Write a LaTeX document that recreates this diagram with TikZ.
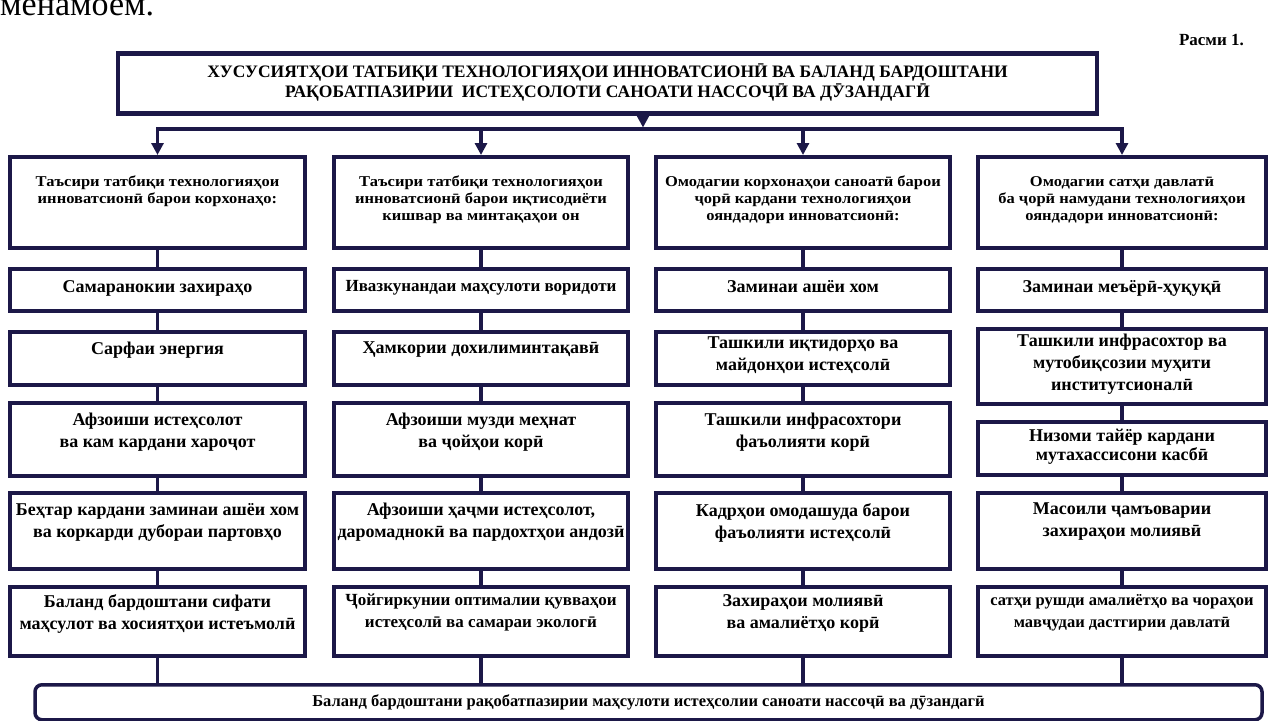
\documentclass[tikz,border=0pt]{standalone}
\usepackage{fontspec}
\setmainfont{Liberation Serif}
\newfontfamily\hdfont[FakeStretch=1.1]{Liberation Serif}
\usetikzlibrary{arrows.meta}
\definecolor{navy}{RGB}{28,24,72}
\tikzset{
  box/.style={draw=navy, line width=3.5pt, fill=white, inner sep=0pt},
  conn/.style={draw=navy, line width=3.5pt},
  arr/.style={conn, -{Triangle[width=12pt,length=12pt]}},
  itemtext/.style={inner sep=0pt, align=center, font=\fontsize{18}{22}\selectfont\bfseries},
  itemsmall/.style={inner sep=0pt, align=center, font=\fontsize{17}{22}\selectfont\bfseries},
  itemnarrow/.style={inner sep=0pt, align=center, font=\fontsize{16.5}{22}\selectfont\bfseries},
  itemtight/.style={inner sep=0pt, align=center, font=\fontsize{18}{19}\selectfont\bfseries},
  headtext/.style={inner sep=0pt, align=center, font=\hdfont\fontsize{15}{17}\selectfont\bfseries},
  titletext/.style={inner sep=0pt, align=center, font=\fontsize{17.5}{20}\selectfont\bfseries},
  bottext/.style={inner sep=0pt, align=center, font=\fontsize{16.5}{20}\selectfont\bfseries},
}
% #1 text style, #2 name, #3 cx, #4 top, #5 width, #6 height, #7 top pad, #8 text
\newcommand\bx[8][itemtext]{%
  \node[box, anchor=north, minimum width=#5pt, minimum height=#6pt] (#2) at (#3,#4) {};
  \node[#1, anchor=north] (#2t) at ([yshift=-#7pt]#2.north) {#8};}
\begin{document}
\begin{tikzpicture}[x=1pt,y=-1pt]
\fill[white] (0,0) rectangle (1271,720);
\useasboundingbox (0,0) rectangle (1271,720);
\node[anchor=base west, inner sep=0pt, font=\fontsize{34}{40}\selectfont] (prev) at (0,15) {менамоем.};
\node[anchor=base east, inner sep=0pt, font=\fontsize{17}{20}\selectfont\bfseries] (fig) at (1244,45) {Расми 1.};
% title
\node[box, line width=4.5pt, anchor=north, minimum width=979pt, minimum height=60pt] (title) at (607.5,51) {};
\node[titletext, anchor=north] (titlet) at ([yshift=-13pt]title.north) {ХУСУСИЯТҲОИ ТАТБИҚИ ТЕХНОЛОГИЯҲОИ ИННОВАТСИОНӢ ВА БАЛАНД БАРДОШТАНИ\\РАҚОБАТПАЗИРИИ~ ИСТЕҲСОЛОТИ САНОАТИ НАССОҶӢ ВА ДӮЗАНДАГӢ};
% headers
\bx[headtext]{c1h}{157.5}{155}{295}{91}{21}{Таъсири татбиқи технологияҳои\\инноватсионӣ барои корхонаҳо:}
\bx[headtext]{c2h}{481}{155}{294}{91}{21}{Таъсири татбиқи технологияҳои\\инноватсионӣ барои иқтисодиёти\\кишвар ва минтақаҳои он}
\bx[headtext]{c3h}{803}{155}{294}{91}{21}{Омодагии корхонаҳои саноатӣ барои\\ҷорӣ кардани технологияҳои\\ояндадори инноватсионӣ:}
\bx[headtext]{c4h}{1122}{155}{288}{91}{21}{Омодагии сатҳи давлатӣ\\ба ҷорӣ намудани технологияҳои\\ояндадори инноватсионӣ:}
% column 1
\bx{c1r1}{157.5}{267}{295}{42}{13}{Самаранокии захираҳо}
\bx{c1r2}{157.5}{330}{295}{53}{12}{Сарфаи энергия}
\bx{c1r3}{157.5}{401}{295}{73}{12}{Афзоиши истеҳсолот\\ва кам кардани хароҷот}
\bx{c1r4}{157.5}{491}{295}{76}{12}{Беҳтар кардани заминаи ашёи хом\\ва коркарди дубораи партовҳо}
\bx{c1r5}{157.5}{585}{295}{69}{9}{Баланд бардоштани сифати\\маҳсулот ва хосиятҳои истеъмолӣ}
% column 2
\bx[itemsmall]{c2r1}{481}{267}{294}{42}{13}{Ивазкунандаи маҳсулоти воридоти}
\bx{c2r2}{481}{330}{294}{53}{12}{Ҳамкории дохилиминтақавӣ}
\bx{c2r3}{481}{401}{294}{73}{12}{Афзоиши музди меҳнат\\ва ҷойҳои корӣ}
\bx{c2r4}{481}{491}{294}{76}{12}{Афзоиши ҳаҷми истеҳсолот,\\даромаднокӣ ва пардохтҳои андозӣ}
\bx[itemsmall]{c2r5}{481}{585}{294}{69}{9}{Ҷойгиркунии оптималии қувваҳои\\истеҳсолӣ ва самараи экологӣ}
% column 3
\bx{c3r1}{803}{267}{294}{42}{13}{Заминаи ашёи хом}
\bx{c3r2}{803}{330}{294}{53}{7}{Ташкили иқтидорҳо ва\\майдонҳои истеҳсолӣ}
\bx{c3r3}{803}{401}{294}{73}{12}{Ташкили инфрасохтори\\фаъолияти корӣ}
\bx{c3r4}{803}{491}{294}{76}{12}{Кадрҳои омодашуда барои\\фаъолияти истеҳсолӣ}
\bx{c3r5}{803}{585}{294}{69}{9}{Захираҳои молиявӣ\\ва амалиётҳо корӣ}
% column 4
\bx{c4r1}{1122}{267}{288}{42}{13}{Заминаи меъёрӣ-ҳуқуқӣ}
\bx{c4r2}{1122}{327}{288}{75}{7}{Ташкили инфрасохтор ва\\мутобиқсозии муҳити\\институтсионалӣ}
\bx[itemtight]{c4r3}{1122}{420}{288}{53}{9}{Низоми тайёр кардани\\мутахассисони касбӣ}
\bx{c4r4}{1122}{491}{288}{76}{12}{Масоили ҷамъоварии\\захираҳои молиявӣ}
\bx[itemnarrow]{c4r5}{1122}{585}{288}{69}{9}{сатҳи рушди амалиётҳо ва чораҳои\\мавҷудаи дастгирии давлатӣ}
% bottom
\node[box, rounded corners=7pt, anchor=north, minimum width=1227pt, minimum height=35pt] (bot) at (648.5,683) {};
\node[bottext] (bott) at (bot.center) {Баланд бардоштани рақобатпазирии маҳсулоти истеҳсолии саноати нассоҷӣ ва дӯзандагӣ};
% connectors
\coordinate (hl) at (643,129);
\draw[arr] (title.south -| hl) -- ([yshift=1.5pt]hl);
\draw[conn, line cap=rect] (c1h.north |- hl) -- (c4h.north |- hl);
\foreach \col in {1,...,4}{
  \draw[arr] (c\col h.north |- hl) -- (c\col h.north);
  \draw[conn] (c\col h.south) -- (c\col r1.north);
  \draw[conn] (c\col r1.south) -- (c\col r2.north);
  \draw[conn] (c\col r2.south) -- (c\col r3.north);
  \draw[conn] (c\col r3.south) -- (c\col r4.north);
  \draw[conn] (c\col r4.south) -- (c\col r5.north);
  \draw[conn] (c\col r5.south) -- (c\col r5.south |- bot.north);
}
\end{tikzpicture}
\end{document}
